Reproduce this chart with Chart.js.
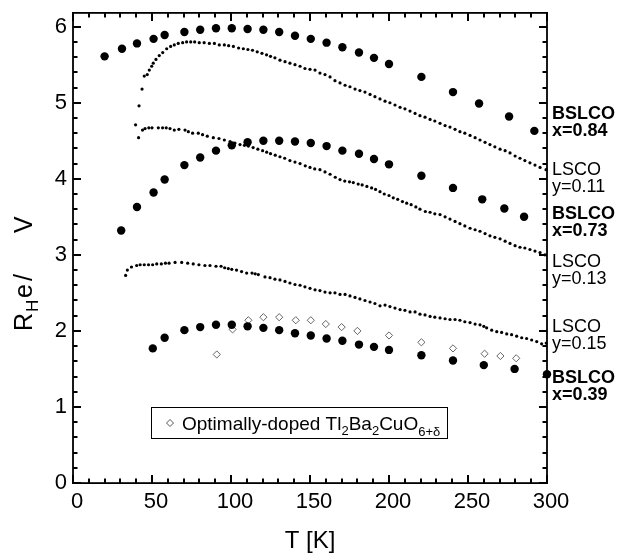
<!DOCTYPE html>
<html>
<head>
<meta charset="utf-8">
<script src="https://cdn.jsdelivr.net/npm/chart.js@4.4.1/dist/chart.umd.min.js"></script>
<style>
  html, body { margin: 0; padding: 0; background: #fff; }
  canvas { display: block; }
</style>
</head>
<body>
<canvas id="chartHall" width="629" height="556"></canvas>
<script>
// Hall coefficient R_H e/V vs T as [T, R] pairs
const bslco084 = [[20,5.61],[31,5.71],[40.5,5.78],[51,5.84],[58,5.89],[70.5,5.93],[80.5,5.96],[90.5,5.98],[100.5,5.98],[110.5,5.97],[120.5,5.96],[130.5,5.93],[140.5,5.88],[150.5,5.84],[160.5,5.79],[170.5,5.73],[181,5.66],[190.5,5.59],[200,5.51],[220.5,5.34],[240.5,5.14],[257,4.99],[276,4.82],[292,4.63]];
const bslco073 = [[30.5,3.32],[40.5,3.63],[51,3.82],[58,3.99],[70.5,4.18],[80.5,4.28],[90.5,4.37],[100.5,4.44],[110.5,4.48],[120.5,4.50],[130.5,4.50],[140.5,4.49],[150.5,4.47],[160.5,4.43],[170.5,4.37],[181,4.33],[190.5,4.26],[200,4.19],[220.5,4.04],[240.5,3.88],[259,3.73],[273,3.61],[285.5,3.50]];
const bslco039 = [[50.5,1.77],[58,1.91],[70.5,2.01],[80.5,2.05],[90.5,2.08],[100.5,2.08],[110.5,2.06],[120.5,2.04],[130.5,2.01],[140.5,1.97],[150.5,1.94],[160.5,1.90],[170.5,1.87],[181,1.82],[190.5,1.79],[200,1.75],[220.5,1.68],[240.5,1.61],[260,1.55],[279.5,1.50],[300,1.43]];
const tl2201 = [[91,1.69],[101,2.02],[111,2.14],[120.5,2.18],[130.5,2.18],[141,2.14],[150.5,2.14],[160,2.09],[170,2.05],[180,2.00],[200,1.94],[220.5,1.85],[240.5,1.77],[260.5,1.70],[270.5,1.67],[280.5,1.64]];

const lsco011 = [[41.8,4.96],[43.7,5.18],[45.1,5.35],[47,5.37],[48.3,5.43],[49.8,5.48],[50.8,5.52],[52.5,5.57],[54.6,5.62],[56.8,5.66],[59.3,5.71],[61.8,5.74],[64.1,5.76],[66.6,5.78],[69.4,5.79],[71.9,5.80],[74.5,5.80],[77,5.80],[79.9,5.79],[83,5.79],[86.3,5.78],[89.5,5.78],[92.6,5.76],[95.8,5.76],[98.5,5.75],[101.5,5.74],[104.8,5.72],[107.8,5.71],[110.7,5.70],[113.6,5.69],[116.6,5.67],[119.6,5.65],[122.5,5.63],[125,5.61],[127.8,5.59],[131,5.56],[134.2,5.54],[137.3,5.52],[140.5,5.50],[143.7,5.48],[146.8,5.45],[150,5.44],[153.2,5.43],[156.3,5.39],[159.5,5.37],[162.7,5.34],[165.8,5.29],[169,5.26],[172.2,5.23],[175.3,5.21],[178.5,5.18],[181.6,5.16],[184.8,5.14],[188,5.11],[191.1,5.08],[194.3,5.05],[197.5,5.02],[200.6,5.00],[203.8,4.97],[207,4.94],[210.1,4.92],[213.3,4.89],[216.5,4.86],[219.6,4.83],[222.8,4.81],[226,4.78],[229,4.76],[232.3,4.73],[235.5,4.70],[238.6,4.68],[241.8,4.65],[244.9,4.62],[248,4.60],[251.3,4.57],[254.5,4.54],[257.6,4.51],[260.8,4.48],[263.9,4.45],[267,4.42],[270.3,4.39],[273.5,4.37],[276.6,4.34],[279.8,4.30],[282.9,4.27],[286,4.24],[289.2,4.21],[292.4,4.18],[295.6,4.15],[299.4,4.12]];
const lsco013 = [[39.6,4.71],[41.5,4.54],[44,4.64],[45.6,4.66],[48,4.67],[50,4.67],[54,4.67],[56.7,4.67],[59,4.67],[61.4,4.66],[64.1,4.64],[67,4.65],[70.9,4.64],[73,4.62],[75.7,4.60],[79.3,4.60],[82,4.58],[85,4.56],[88.8,4.54],[92.4,4.53],[95.8,4.51],[99.4,4.49],[102.5,4.47],[105.7,4.45],[108.5,4.44],[111,4.43],[114,4.41],[117,4.39],[120,4.37],[122.6,4.35],[125,4.33],[128,4.31],[131,4.29],[134,4.27],[137.3,4.24],[140.5,4.22],[143.7,4.20],[147,4.17],[150,4.15],[153,4.13],[156.3,4.12],[159.5,4.09],[162.7,4.06],[166,4.02],[169,3.99],[172,3.97],[175,3.96],[177.4,3.95],[180.5,3.93],[183,3.92],[186,3.90],[189,3.88],[191.5,3.86],[194.3,3.83],[197,3.80],[200,3.78],[202.7,3.75],[205.5,3.73],[208.5,3.70],[211.2,3.68],[214,3.66],[217,3.63],[219.6,3.60],[223,3.57],[226,3.56],[229,3.54],[232.3,3.53],[235.5,3.50],[238.6,3.47],[241.8,3.44],[244.9,3.41],[248,3.38],[251.3,3.35],[254.5,3.33],[257.6,3.31],[260.8,3.28],[263.9,3.25],[267,3.23],[270.3,3.21],[273.5,3.18],[276.6,3.15],[279.8,3.12],[282.9,3.10],[286,3.09],[289.2,3.07],[292.4,3.05],[295.6,3.03],[298.7,3.00]];
const lsco015 = [[33.3,2.73],[34.4,2.80],[37,2.84],[40.3,2.86],[42.5,2.87],[45.1,2.87],[47.8,2.87],[50.4,2.87],[53,2.88],[55.9,2.88],[58.5,2.89],[60.8,2.89],[64.6,2.90],[68.8,2.90],[72.6,2.89],[76.1,2.88],[79.7,2.87],[83.5,2.86],[86.7,2.86],[90.5,2.85],[93.7,2.85],[96,2.83],[98.3,2.82],[100.5,2.81],[103.5,2.80],[106.7,2.78],[109.9,2.76],[113.3,2.76],[115.3,2.75],[117.3,2.74],[121.5,2.71],[124.7,2.70],[127.8,2.68],[131,2.67],[134.2,2.65],[137.3,2.63],[140.5,2.61],[143.7,2.60],[146.8,2.58],[150,2.56],[153.2,2.54],[156.3,2.53],[159.5,2.51],[162.7,2.50],[165.8,2.50],[169,2.48],[172.2,2.48],[175.3,2.46],[178.5,2.44],[181.6,2.42],[184.8,2.40],[188,2.38],[191.1,2.36],[194.3,2.33],[197.5,2.34],[200.6,2.32],[203.8,2.30],[207,2.28],[210.1,2.27],[213.3,2.25],[216.5,2.25],[219.6,2.22],[222.8,2.21],[226,2.19],[229,2.18],[232.3,2.17],[235.5,2.16],[238.6,2.15],[241.8,2.15],[244.9,2.14],[248,2.12],[251.3,2.11],[254.5,2.09],[257.6,2.08],[260,2.06],[261.8,2.04],[265,2.01],[268.2,1.99],[271.3,1.98],[274.5,1.96],[277.6,1.95],[280.8,1.93],[284,1.91],[287.1,1.90],[290.3,1.88],[293.5,1.86],[296.6,1.83],[299.5,1.84]];

// labels at the right edge, top to bottom
const sideLabels = [
  ["BSLCO", "x=0.84", true],
  ["LSCO", "y=0.11", false],
  ["BSLCO", "x=0.73", true],
  ["LSCO", "y=0.13", false],
  ["LSCO", "y=0.15", false],
  ["BSLCO", "x=0.39", true],
];
const sideLabelY = [114, 170, 214, 262, 327, 378];

const FONT = "'Liberation Sans', Arial, Helvetica, sans-serif";

const toPoints = (arr) => arr.map(([t, r]) => ({ x: t, y: r }));

// draw text made of pieces (for subscripts); p.at = fixed offset if given
const drawRich = (ctx, parts, x0, y0) => {
  let cx = x0;
  parts.forEach((p) => {
    ctx.font = `${p.bold ? "bold " : ""}${p.size}px ${FONT}`;
    if (p.at !== undefined) cx = x0 + p.at;
    ctx.fillText(p.t, cx, y0 + (p.dy || 0));
    cx += ctx.measureText(p.t).width;
  });
};

const framePlugin = {
  id: "frame",
  afterDraw(chart) {
    const ctx = chart.ctx;
    const a = chart.chartArea;
    const sx = chart.scales.x;
    const sy = chart.scales.y;
    ctx.save();
    ctx.fillStyle = "#000";

    // frame
    ctx.fillRect(a.left - 1, a.top - 1, a.right - a.left + 2, 1.8);
    ctx.fillRect(a.left - 1, a.bottom - 0.8, a.right - a.left + 2, 1.8);
    ctx.fillRect(a.left - 0.9, a.top - 1, 1.8, a.bottom - a.top + 2);
    ctx.fillRect(a.right - 0.9, a.top - 1, 1.8, a.bottom - a.top + 2);

    // inward ticks on all four sides
    for (let i = 0; i <= 30; i++) {
      const px = Math.round(sx.getPixelForValue(i * 10));
      const len = i % 5 === 0 ? 8 : 4.5;
      ctx.fillRect(px - 1, a.bottom - len, 2, len);
      ctx.fillRect(px - 1, a.top, 2, len);
    }
    for (let i = 0; i <= 30; i++) {
      const py = Math.round(sy.getPixelForValue(i * 0.2));
      const len = i % 5 === 0 ? 8 : 4.5;
      ctx.fillRect(a.left, py - 1, len, 2);
      ctx.fillRect(a.right - len, py - 1, len, 2);
    }

    ctx.textAlign = "left";

    // y axis title, rotated
    ctx.save();
    ctx.translate(32, 331);
    ctx.rotate(-Math.PI / 2);
    ctx.textBaseline = "alphabetic";
    drawRich(ctx, [
      { t: "R", size: 25, at: 0 },
      { t: "H", size: 17, dy: 6, at: 19 },
      { t: "e", size: 25, at: 33 },
      { t: "/", size: 25, at: 50 },
      { t: "V", size: 25, at: 98 },
    ], 0, 0);
    ctx.restore();

    // right side series labels
    ctx.textBaseline = "middle";
    sideLabels.forEach(([name, val, bold], i) => {
      ctx.font = `${bold ? "bold " : ""}18px ${FONT}`;
      ctx.fillText(name, a.right + 5, sideLabelY[i]);
      ctx.fillText(val, a.right + 5, sideLabelY[i] + 17);
    });

    // legend box for Tl2201
    ctx.strokeStyle = "#000";
    ctx.lineWidth = 1;
    ctx.strokeRect(151.5, 407.5, 296, 31);
    ctx.strokeStyle = "#555";
    ctx.beginPath();
    ctx.moveTo(170, 419.5);
    ctx.lineTo(173.5, 423);
    ctx.lineTo(170, 426.5);
    ctx.lineTo(166.5, 423);
    ctx.closePath();
    ctx.stroke();
    ctx.textBaseline = "alphabetic";
    drawRich(ctx, [
      { t: "Optimally-doped Tl", size: 19 },
      { t: "2", size: 13, dy: 5 },
      { t: "Ba", size: 19 },
      { t: "2", size: 13, dy: 5 },
      { t: "CuO", size: 19 },
      { t: "6+δ", size: 13, dy: 6 },
    ], 182, 430);
    ctx.restore();
  },
};

const bigDot = { pointRadius: 4.2, pointBackgroundColor: "#000", pointBorderWidth: 0, showLine: false, clip: false };
const smallDot = { pointRadius: 1.6, pointBackgroundColor: "#000", pointBorderWidth: 0, showLine: false, clip: false };

new Chart(document.getElementById("chartHall"), {
  type: "scatter",
  data: {
    datasets: [
      { label: "LSCO y=0.11", data: toPoints(lsco011), ...smallDot },
      { label: "LSCO y=0.13", data: toPoints(lsco013), ...smallDot },
      { label: "LSCO y=0.15", data: toPoints(lsco015), ...smallDot },
      { label: "BSLCO x=0.84", data: toPoints(bslco084), ...bigDot },
      { label: "BSLCO x=0.73", data: toPoints(bslco073), ...bigDot },
      { label: "BSLCO x=0.39", data: toPoints(bslco039), ...bigDot },
      {
        label: "Tl2201",
        data: toPoints(tl2201),
        pointStyle: "rectRot",
        pointRadius: 3.6,
        pointBackgroundColor: "#fff",
        pointBorderColor: "#555",
        pointBorderWidth: 0.9,
        showLine: false,
        clip: false,
      },
    ],
  },
  options: {
    responsive: false,
    animation: false,
    events: [],
    layout: { padding: { left: 0, top: 13, right: 82, bottom: 0 } },
    plugins: { legend: { display: false }, tooltip: { enabled: false } },
    scales: {
      x: {
        type: "linear",
        min: 0,
        max: 300,
        grid: { display: false, drawTicks: false },
        border: { display: false },
        ticks: { stepSize: 50, color: "#000", font: { family: FONT, size: 22 }, padding: 6, labelOffset: 4, maxRotation: 0 },
        title: { display: true, text: "T [K]", color: "#000", font: { family: FONT, size: 24 }, padding: { top: 0, bottom: 0 } },
        afterFit: (s) => { s.height = 73; s.paddingLeft = 0; s.paddingRight = 0; },
      },
      y: {
        type: "linear",
        min: 0,
        max: 6.18,
        grid: { display: false, drawTicks: false },
        border: { display: false },
        ticks: { stepSize: 1, includeBounds: false, color: "#000", font: { family: FONT, size: 22 }, padding: 6 },
        afterFit: (s) => { s.width = 73; s.paddingTop = 0; s.paddingBottom = 0; },
      },
    },
  },
  plugins: [framePlugin],
});
</script>
</body>
</html>
